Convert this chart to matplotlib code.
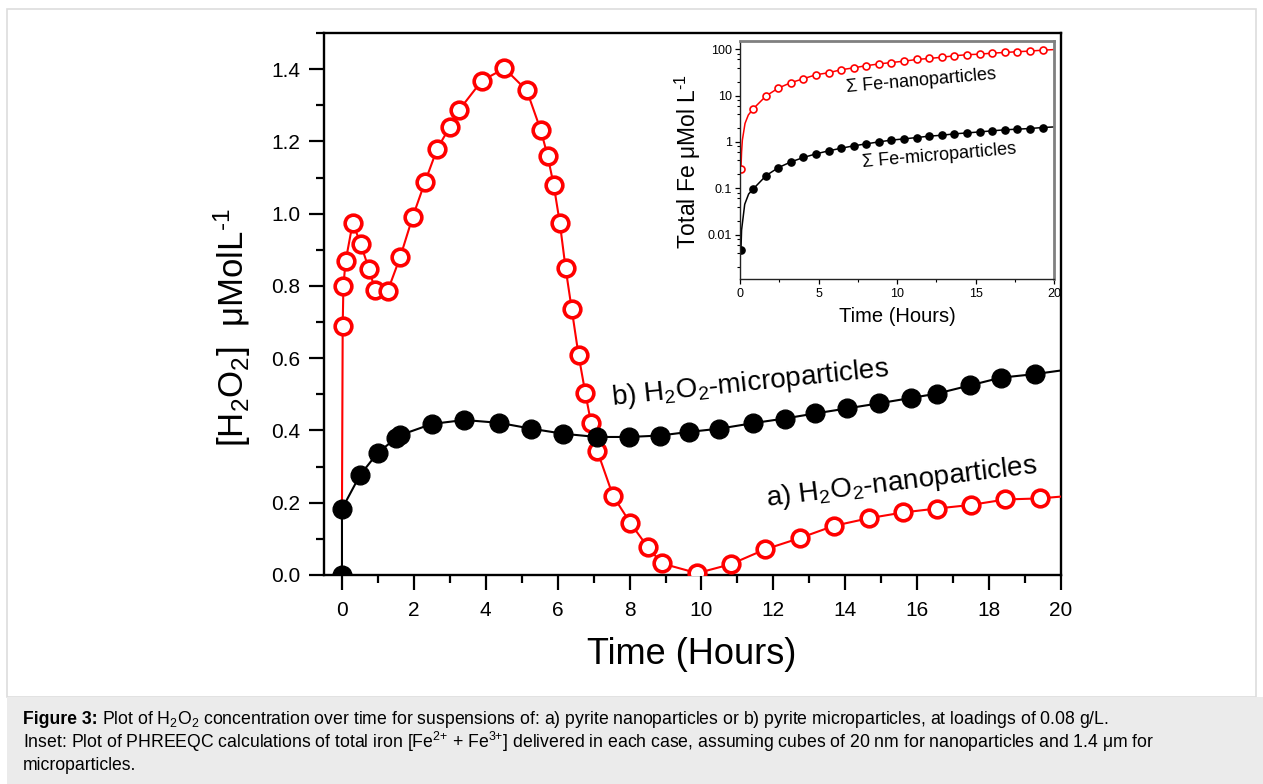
import numpy as np
import matplotlib
matplotlib.use("Agg")
import matplotlib.pyplot as plt
from matplotlib.ticker import (MultipleLocator, FixedLocator, LogLocator,
                               NullFormatter, FormatStrFormatter)
from matplotlib.patches import Rectangle

plt.rcParams['font.family'] = ['Liberation Sans', 'DejaVu Sans']
plt.rcParams['mathtext.fontset'] = 'custom'
plt.rcParams['mathtext.rm'] = 'Liberation Sans'
plt.rcParams['mathtext.it'] = 'Liberation Sans:italic'
plt.rcParams['mathtext.bf'] = 'Liberation Sans:bold'

# ---- H2O2 concentration (umol/L) vs time (h) ----
# nanoparticles: first point is the start of the trace, last point is the trace end
nano_t = [0.0, 0.02, 0.04, 0.1, 0.3, 0.52, 0.75, 0.92, 1.27, 1.62, 1.97, 2.31, 2.65,
          3.0, 3.26, 3.89, 4.52, 5.14, 5.53, 5.72, 5.89, 6.06, 6.22, 6.39, 6.58,
          6.77, 6.93, 7.1, 7.54, 8.02, 8.5, 8.9, 9.88, 10.82, 11.77, 12.73, 13.68,
          14.65, 15.6, 16.55, 17.5, 18.45, 19.42, 20.0]
nano_h2o2 = [0.185, 0.69, 0.80, 0.868, 0.975, 0.916, 0.847, 0.789, 0.786, 0.880,
             0.992, 1.088, 1.180, 1.240, 1.287, 1.368, 1.402, 1.341, 1.231, 1.160,
             1.079, 0.974, 0.849, 0.736, 0.609, 0.503, 0.420, 0.344, 0.219, 0.144,
             0.078, 0.032, 0.005, 0.030, 0.071, 0.102, 0.136, 0.157, 0.173, 0.184,
             0.194, 0.209, 0.212, 0.217]

# microparticles: last point is the trace end
micro_t = [0.0, 0.0, 0.5, 1.0, 1.5, 1.62, 2.5, 3.4, 4.38, 5.26, 6.15, 7.08, 7.99,
           8.85, 9.65, 10.5, 11.42, 12.31, 13.16, 14.05, 14.93, 15.83, 16.55,
           17.48, 18.32, 19.27, 20.0]
micro_h2o2 = [0.0, 0.183, 0.276, 0.339, 0.378, 0.387, 0.418, 0.429, 0.421, 0.405,
              0.391, 0.382, 0.382, 0.386, 0.396, 0.405, 0.420, 0.433, 0.447, 0.461,
              0.475, 0.490, 0.502, 0.525, 0.546, 0.556, 0.566]

# ---- inset: total Fe (umol/L) from PHREEQC ----
fe_t = [0.06, 0.85, 1.66, 2.45, 3.25, 4.04, 4.83, 5.64, 6.45, 7.23, 8.04, 8.85,
        9.64, 10.45, 11.26, 12.06, 12.87, 13.66, 14.47, 15.26, 16.06, 16.87,
        17.66, 18.47, 19.28]
fe_nano = [0.265, 5.2, 9.8, 14.5, 19, 23, 28, 31, 36, 39.5, 44, 48, 51.5, 55, 60,
           63, 67, 72, 76, 78, 82, 85, 88, 91, 95]
fe_micro = [0.0046, 0.097, 0.187, 0.279, 0.37, 0.46, 0.55, 0.64, 0.73, 0.82, 0.906,
            1.0, 1.09, 1.16, 1.24, 1.33, 1.39, 1.49, 1.56, 1.64, 1.73, 1.82, 1.88,
            1.94, 2.04]
# calculated curve between the first sampled points and at the end of the run
fe_nano_curve_t = [0.1, 0.15, 0.32, 0.53, 20.0]
fe_nano_curve = [0.6, 1.09, 2.5, 3.8, 98]
fe_micro_curve_t = [0.1, 0.3, 0.55, 20.0]
fe_micro_curve = [0.0125, 0.045, 0.075, 2.1]

W, H = 1263, 784
fig = plt.figure(figsize=(W / 100, H / 100), dpi=100)


def fx(px):
    return px / W


def fy(py):
    return 1 - py / H


# page panel and caption strip
fig.patches.append(Rectangle((fx(7), fy(697)), fx(1256) - fx(7), fy(9) - fy(697),
                             transform=fig.transFigure, facecolor='white',
                             edgecolor='#dddddd', lw=1.2, zorder=-10))
fig.patches.append(Rectangle((fx(7), 0), 1 - fx(7), fy(697),
                             transform=fig.transFigure, facecolor='#ebebeb',
                             edgecolor='none', zorder=-10))

RED = '#ff0000'

# ---- main axes ----
ax = fig.add_axes([fx(324), fy(575), fx(1061) - fx(324), fy(33) - fy(575)])
ax.set_facecolor('none')
ax.plot(nano_t, nano_h2o2, color=RED, lw=1.5, marker='o', ms=12, mfc='white',
        mec=RED, mew=2.6, markevery=list(range(1, len(nano_t) - 1)), zorder=3)
ax.plot(micro_t, micro_h2o2, color='black', lw=1.5, marker='o', ms=13.5,
        mfc='black', mec='black', markevery=list(range(0, len(micro_t) - 1)),
        zorder=4)

ax.set_xlim(-0.5, 20)
ax.set_ylim(0, 1.5)
ax.xaxis.set_major_locator(MultipleLocator(2))
ax.xaxis.set_minor_locator(MultipleLocator(1))
ax.yaxis.set_major_locator(FixedLocator(np.arange(0, 1.41, 0.2)))
ax.yaxis.set_minor_locator(MultipleLocator(0.1))
ax.yaxis.set_major_formatter(FormatStrFormatter('%.1f'))
ax.tick_params(which='major', direction='out', length=11, width=1.6, labelsize=15)
ax.tick_params(which='minor', direction='out', length=6, width=1.6)
ax.tick_params(axis='x', which='major', pad=8)
ax.tick_params(axis='y', which='major', pad=6)
for s in ax.spines.values():
    s.set_linewidth(1.7)

ax.text(11.36, 0.531, r'b) H$_2$O$_2$-microparticles', fontsize=20, rotation=6,
        ha='center', va='center', rotation_mode='anchor')
ax.text(15.58, 0.255, r'a) H$_2$O$_2$-nanoparticles', fontsize=20, rotation=7,
        ha='center', va='center', rotation_mode='anchor')

fig.text(fx(232), fy(328), r'[H$_2$O$_2$]  μMolL$^{\text{-}1}$', fontsize=25,
         rotation=90, ha='center', va='center')
fig.text(fx(692), fy(655), 'Time (Hours)', fontsize=26, ha='center', va='center')

# ---- inset ----
axin = fig.add_axes([fx(740), fy(279), fx(1054) - fx(740), fy(41) - fy(279)])
axin.set_zorder(5)
nano_line = sorted(zip(fe_t + fe_nano_curve_t, fe_nano + fe_nano_curve))
micro_line = sorted(zip(fe_t + fe_micro_curve_t, fe_micro + fe_micro_curve))
axin.plot([p[0] for p in nano_line], [p[1] for p in nano_line], color=RED, lw=1.1)
axin.plot([p[0] for p in micro_line], [p[1] for p in micro_line], color='black', lw=1.1)
axin.plot(fe_t, fe_nano, ls='none', marker='o', ms=5, mfc='white', mec=RED, mew=1.2)
axin.plot(fe_t, fe_micro, ls='none', marker='o', ms=5.2, mfc='black', mec='black')
axin.set_yscale('log')
axin.set_xlim(0, 20)
axin.set_ylim(0.0011, 150)
axin.xaxis.set_major_locator(MultipleLocator(5))
axin.xaxis.set_minor_locator(MultipleLocator(2.5))
axin.yaxis.set_major_locator(FixedLocator([0.01, 0.1, 1, 10, 100]))
axin.set_yticklabels(['0.01', '0.1', '1', '10', '100'])
axin.yaxis.set_minor_locator(LogLocator(base=10, subs=(2, 4, 6, 8)))
axin.yaxis.set_minor_formatter(NullFormatter())
axin.tick_params(which='major', direction='out', length=3.5, width=0.9, labelsize=9, pad=2)
axin.tick_params(which='minor', direction='out', length=2, width=0.8)
axin.tick_params(axis='x', which='major', pad=3)
for side in ('left', 'bottom'):
    axin.spines[side].set_color('#222222')
    axin.spines[side].set_linewidth(1.0)
for side in ('top', 'right'):
    axin.spines[side].set_color('#808080')
    axin.spines[side].set_linewidth(2.0)
axin.text(11.57, 21, 'Σ Fe-nanoparticles', fontsize=13, rotation=5,
          ha='center', va='center', rotation_mode='anchor')
axin.text(12.7, 0.5, 'Σ Fe-microparticles', fontsize=13, rotation=5,
          ha='center', va='center', rotation_mode='anchor')
fig.text(fx(688), fy(161), r'Total Fe μMol L$^{\text{-}1}$', fontsize=16.5, rotation=90,
         ha='center', va='center')
fig.text(fx(897), fy(317), 'Time (Hours)', fontsize=14.5, ha='center', va='center')

# ---- caption ----
cap_fs = 12.7
renderer = fig.canvas.get_renderer()
head = fig.text(fx(23), fy(719), 'Figure 3:', fontsize=cap_fs, fontweight='bold',
                ha='left', va='center')
head_box = head.get_window_extent(renderer)
fig.text(head_box.x1 / W + fx(4), fy(719),
         r'Plot of H$_2$O$_2$ concentration over time for suspensions of: '
         r'a) pyrite nanoparticles or b) pyrite microparticles, at loadings of 0.08 g/L.',
         fontsize=cap_fs, ha='left', va='center')
fig.text(fx(23), fy(742), r'Inset: Plot of PHREEQC calculations of total iron '
         r'[Fe$^{2{+}}$ + Fe$^{3{+}}$] delivered in each case, assuming cubes of 20 nm '
         r'for nanoparticles and 1.4 μm for', fontsize=cap_fs, ha='left', va='center')
fig.text(fx(23), fy(765), 'microparticles.', fontsize=cap_fs, ha='left', va='center')

fig.savefig('out.png', dpi=100)
